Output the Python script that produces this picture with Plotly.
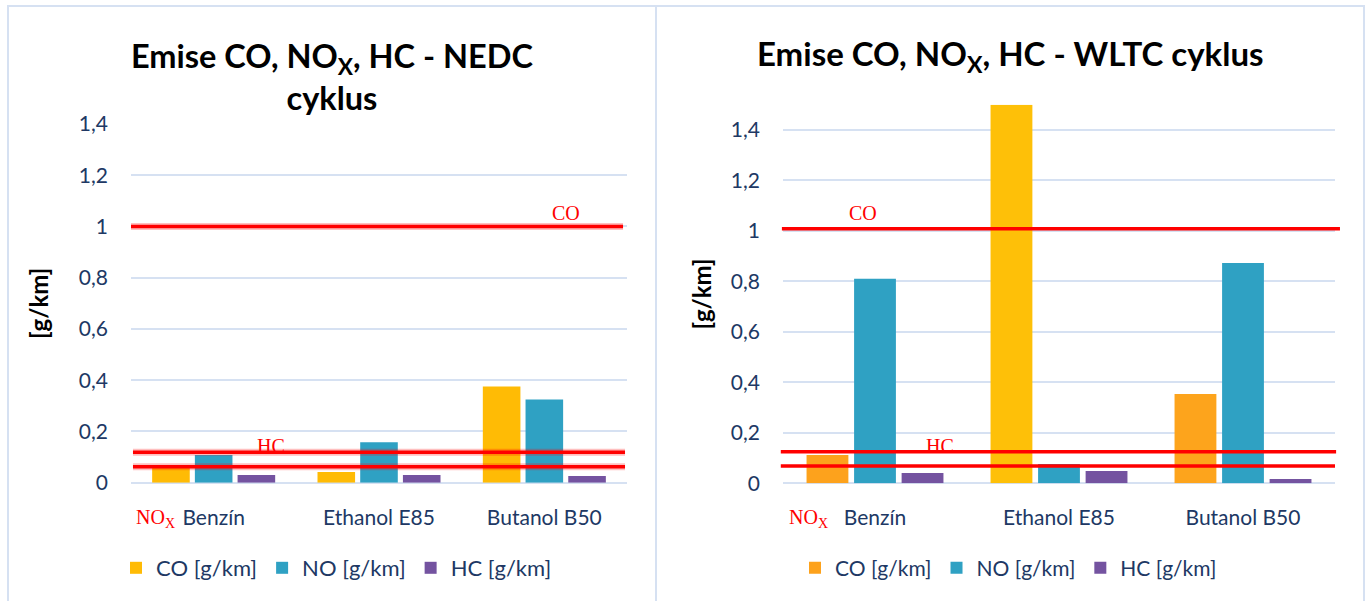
import plotly.graph_objects as go

categories = ["Benzín", "Ethanol E85", "Butanol B50"]

nedc_co = [0.058, 0.042, 0.375]
nedc_no = [0.108, 0.158, 0.325]
nedc_hc = [0.030, 0.030, 0.026]

wltc_co = [0.112, 1.50, 0.354]
wltc_no = [0.810, 0.076, 0.873]
wltc_hc = [0.041, 0.049, 0.017]

series_names = ["CO [g/km]", "NO [g/km]", "HC [g/km]"]

# hand-drawn limit lines (value of each red line)
nedc_limits = {"CO": 1.0, "HC": 0.119, "NOx": 0.062}
wltc_limits = {"CO": 1.009, "HC": 0.125, "NOx": 0.069}

y_ticks = [0, 0.2, 0.4, 0.6, 0.8, 1.0, 1.2, 1.4]

W, H = 1370, 601
def fx(px):
    return px / W
def fy(py):
    return 1 - py / H

TXT = "#203864"
GRID = "#d6e1f2"
FONT = "Lato"

fig = go.Figure()

left_colors = ["#ffbb05", "#2fa1c3", "#7453a0"]
right_co_colors = ["#fda21c", "#fec008", "#fda41c"]

for name, vals, col in zip(series_names, [nedc_co, nedc_no, nedc_hc], left_colors):
    fig.add_trace(go.Bar(x=categories, y=vals, name=name, marker_color=col,
                         marker_line_width=0, xaxis="x", yaxis="y", legend="legend"))

for i, (name, vals) in enumerate(zip(series_names, [wltc_co, wltc_no, wltc_hc])):
    col = right_co_colors if i == 0 else left_colors[i]
    fig.add_trace(go.Bar(x=categories, y=vals, name=name, marker_color=col,
                         marker_line_width=0, xaxis="x2", yaxis="y2", legend="legend2"))

axis_common = dict(showgrid=False, showline=False, zeroline=False, ticks="", automargin=False,
                   tickfont=dict(family=FONT, size=21, color=TXT), ticklabelstandoff=20)

def yaxis_common(standoff):
    return dict(showgrid=True, gridcolor=GRID, gridwidth=2, zeroline=True, automargin=False,
                zerolinecolor=GRID, zerolinewidth=2, showline=False, ticks="",
                tickvals=y_ticks, tickfont=dict(family=FONT, size=21, color=TXT),
                ticklabelstandoff=22,
                title=dict(text="<b>[g/km]</b>", font=dict(family=FONT, size=24, color="black"),
                           standoff=standoff))

fig.update_layout(
    template="none",
    width=W, height=H,
    margin=dict(l=0, r=0, t=0, b=0, pad=0, autoexpand=False),
    paper_bgcolor="white", plot_bgcolor="white",
    separators=", ",
    barmode="group", bargap=0.225, bargroupgap=0.12,
    xaxis=dict(domain=[fx(131), fx(627)], anchor="y", **axis_common),
    yaxis=dict(domain=[fy(482.7), fy(124)], range=[0, 1.4], anchor="x", **yaxis_common(23)),
    xaxis2=dict(domain=[fx(783), fx(1335)], anchor="y2", **axis_common),
    yaxis2=dict(domain=[fy(483.3), fy(104.7)], range=[0, 1.5], anchor="x2", **yaxis_common(12)),
    legend=dict(orientation="h", x=fx(116), y=fy(568), xanchor="left", yanchor="middle",
                font=dict(family=FONT, size=22, color=TXT), itemwidth=30, bgcolor="rgba(0,0,0,0)"),
    legend2=dict(orientation="h", x=fx(795), y=fy(568), xanchor="left", yanchor="middle",
                 font=dict(family=FONT, size=21, color=TXT), itemwidth=30, bgcolor="rgba(0,0,0,0)"),
    showlegend=True,
)

shapes = []
# panel borders
shapes.append(dict(type="rect", xref="paper", yref="paper", x0=fx(8), x1=fx(656), y0=fy(640), y1=fy(6),
                   line=dict(color="#d6e1f2", width=2), layer="below"))
shapes.append(dict(type="rect", xref="paper", yref="paper", x0=fx(656), x1=fx(1364), y0=fy(640), y1=fy(6),
                   line=dict(color="#d6e1f2", width=2), layer="below"))

def limit_line(xref, yref, val, x0, x1, glow=False):
    out = []
    if glow:
        out.append(dict(type="line", xref=xref, yref=yref, x0=x0, x1=x1, y0=val, y1=val,
                        line=dict(color="rgba(255,0,0,0.25)", width=7), layer="above"))
    out.append(dict(type="line", xref=xref, yref=yref, x0=x0, x1=x1, y0=val, y1=val,
                    line=dict(color="#ff0000", width=3.5), layer="above"))
    return out

shapes += limit_line("x domain", "y", nedc_limits["CO"], 0.0, 0.992, glow=True)
shapes += limit_line("x domain", "y", nedc_limits["HC"], 0.004, 0.996, glow=True)
shapes += limit_line("x domain", "y", nedc_limits["NOx"], 0.004, 0.996, glow=True)
shapes += limit_line("x2 domain", "y2", wltc_limits["CO"], -0.002, 1.009)
shapes += limit_line("x2 domain", "y2", wltc_limits["HC"], -0.004, 1.002)
shapes += limit_line("x2 domain", "y2", wltc_limits["NOx"], -0.004, 1.0)
fig.update_layout(shapes=shapes)

annotations = []
TITLE_FONT = dict(family=FONT, size=33, color="black")
annotations.append(dict(xref="paper", yref="paper", x=fx(332), y=fy(76), xanchor="center", yanchor="middle",
                        text="<b>Emise CO, NO<sub>X</sub>, HC - NEDC<br>cyklus</b>", showarrow=False,
                        font=dict(family=FONT, size=32.5, color="black"), align="center"))
annotations.append(dict(xref="paper", yref="paper", x=fx(1011), y=fy(55), xanchor="center", yanchor="middle",
                        text="<b>Emise CO, NO<sub>X</sub>, HC - WLTC cyklus</b>", showarrow=False,
                        font=TITLE_FONT, align="center"))

RED_FONT = dict(family="Liberation Serif", size=20, color="#ff0000")
def red_label(px, py, text):
    return dict(xref="paper", yref="paper", x=fx(px), y=fy(py), xanchor="center", yanchor="middle",
                text=text, showarrow=False, font=RED_FONT)

annotations += [
    red_label(566, 213, "CO"),
    red_label(271, 446, "HC"),
    red_label(155, 518, "NO<sub>X</sub>"),
    red_label(863, 213, "CO"),
    red_label(940, 446, "HC"),
    red_label(808, 518, "NO<sub>X</sub>"),
]
fig.update_layout(annotations=annotations)

fig.write_html("out.html", config={"displayModeBar": False},
               post_script="document.body.style.margin='0';")
